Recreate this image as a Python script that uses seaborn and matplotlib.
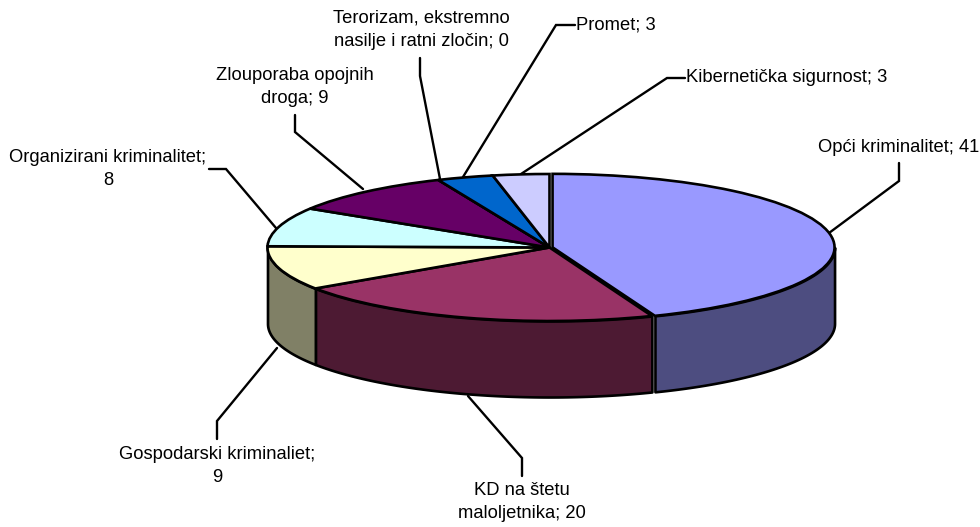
import numpy as np
import matplotlib
matplotlib.use('Agg')
import matplotlib.pyplot as plt
import seaborn as sns

sns.set_theme(style='white')
plt.rcParams['font.family'] = ['Liberation Sans', 'DejaVu Sans']

categories = ['Opći kriminalitet', 'KD na štetu\nmaloljetnika', 'Gospodarski kriminaliet',
              'Organizirani kriminalitet', 'Zlouporaba opojnih\ndroga',
              'Terorizam, ekstremno\nnasilje i ratni zločin', 'Promet', 'Kibernetička sigurnost']
values = [41, 20, 9, 8, 9, 0, 3, 3]
separators = [' ', ' ', '\n', '\n', ' ', ' ', ' ', ' ']
top_colors = ['#9999FF', '#993366', '#FFFFCC', '#CCFFFF', '#660066', '#FF8080', '#0066CC', '#CCCCFF']
side_colors = ['#4D4D80', '#4D1A33', '#808066', '#668080', '#330033', '#804040', '#003366', '#666680']
explode = [0.011, 0, 0, 0, 0, 0, 0, 0]

# pie geometry in picture pixels
CX, CY = 549.5, 247.5
RX, RY = 282, 73.5
DEPTH = 76


def px(x):
    return (np.asarray(x, dtype=float) - CX) / RX


def py(y):
    return (CY - np.asarray(y, dtype=float)) / RY


fig = plt.figure(figsize=(9.8, 5.27), dpi=100)
ax = fig.add_axes([0, 0, 1, 1])

wedges, _ = ax.pie(values, colors=sns.color_palette(top_colors), startangle=90, counterclock=False,
                   explode=explode, radius=1,
                   wedgeprops={'edgecolor': 'black', 'linewidth': 1.9, 'zorder': 3})
ax.set_aspect('auto')
ax.set_xlim(px(0), px(980))
ax.set_ylim(py(527), py(0))

# side wall, only the front half of the rim shows
for wedge, side in zip(wedges, side_colors):
    t1 = max(wedge.theta1, -180)
    t2 = min(wedge.theta2, 0)
    if t2 <= t1:
        continue
    t = np.radians(np.linspace(t1, t2, 80))
    x = wedge.center[0] + np.cos(t)
    y = wedge.center[1] + np.sin(t)
    ax.fill_between(x, y, y - DEPTH / RY, color=side, edgecolor='black', linewidth=1.9, zorder=2)

# leader lines
leaders = [
    ([829, 899, 899], [233, 181, 163]),
    ([468, 522, 522], [396, 458, 476]),
    ([277, 217, 217], [348, 421, 439]),
    ([276, 226, 209], [228, 169, 169]),
    ([363, 295, 295], [189, 132, 115]),
    ([440, 420, 420], [179, 76, 58]),
    ([463, 556, 575], [177, 25, 25]),
    ([521, 667, 685], [174, 78, 78]),
]
for lx, ly in leaders:
    ax.plot(px(lx), py(ly), color='black', linewidth=1.7, zorder=1, solid_joinstyle='miter')

# label text: x, y, horizontal alignment
label_pos = [
    (979, 148, 'right'),
    (522, 502, 'center'),
    (217, 466, 'center'),
    (108, 169, 'center'),
    (295, 87, 'center'),
    (421, 30, 'center'),
    (576, 25, 'left'),
    (686, 78, 'left'),
]
for name, val, sep, (tx, ty, ha) in zip(categories, values, separators, label_pos):
    ax.text(px(tx), py(ty), f'{name};{sep}{val}', ha=ha, va='center', ma='center',
            fontsize=13.2, color='black', linespacing=1.52, zorder=5)

fig.savefig('out.png', dpi=100, facecolor='white')
